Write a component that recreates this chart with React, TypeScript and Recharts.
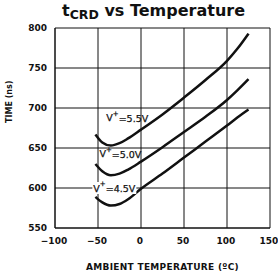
import { LineChart, Line, XAxis, YAxis, CartesianGrid, ReferenceDot, Label } from 'recharts';

// values
const temps: number[] = [-53, -45, -35, -25, -15, 0, 25, 50, 75, 100, 112, 125];
const time55: number[] = [667, 657, 653, 656, 662, 673, 692, 713, 735, 759, 774, 793];
const time50: number[] = [630, 621, 616, 618, 623, 633, 651, 670, 689, 710, 722, 736];
const time45: number[] = [589, 582, 578, 580, 586, 599, 618, 638, 658, 678, 688, 698];

const xTicks: number[] = [-100, -50, 0, 50, 100, 150];
const yTicks: number[] = [550, 600, 650, 700, 750, 800];

const curveLabels = [
    { volts: '5.5V', x: -16, y: 688, bg: false },
    { volts: '5.0V', x: -24, y: 643, bg: false },
    { volts: '4.5V', x: -31, y: 600, bg: true },
];

const data = temps.map((t, i) => ({ t, v55: time55[i], v50: time50[i], v45: time45[i] }));

const ink = '#111';
const font = '"DejaVu Sans", sans-serif';

const CurveLabel = (volts: string, bg: boolean) => (props: any) => {
    const { viewBox } = props;
    const cx = viewBox.x + (viewBox.width || 0) / 2;
    const cy = viewBox.y + (viewBox.height || 0) / 2;
    return (
        <g>
            {bg && <rect x={cx - 22} y={cy - 6} width={44} height={12} fill="#fff" />}
            <text x={cx} y={cy} textAnchor="middle" dominantBaseline="central"
                fontFamily={font} fontSize={9.5} fill={ink} stroke={ink} strokeWidth={0.25}>
                V<tspan dy={-4} fontSize={7}>+</tspan><tspan dy={4}>={volts}</tspan>
            </text>
        </g>
    );
};

export default function App() {
    return (
        <div style={{ position: 'absolute', left: 0, top: 0, width: 278, height: 277, background: '#fff' }}>
            <div style={{ position: 'absolute', left: 0, top: 1, width: 307, textAlign: 'center',
                fontFamily: font, fontWeight: 'bold', fontSize: 16, color: ink }}>
                t<sub style={{ fontSize: 12.5, verticalAlign: -3 }}>CRD</sub> vs Temperature
            </div>
            <LineChart width={278} height={277} data={data}
                margin={{ top: 28, right: 8, left: 0, bottom: 0 }}>
                <CartesianGrid stroke={ink} strokeWidth={1} horizontalValues={yTicks} verticalValues={xTicks} />
                <XAxis dataKey="t" type="number" domain={[-100, 150]} ticks={xTicks} height={49}
                    tickLine={false} tickSize={0} tickMargin={10} axisLine={{ stroke: ink }}
                    tick={{ fill: ink, fontSize: 9, fontFamily: font, fontWeight: 'bold', dx: -1 }}
                    tickFormatter={(v: number) => (v < 0 ? '\u2212' + Math.abs(v) : String(v))}>
                    <Label value="AMBIENT TEMPERATURE (ºC)" position="insideBottom" offset={7}
                        fill={ink} fontSize={9} fontWeight="bold" fontFamily={font} letterSpacing={0.3} />
                </XAxis>
                <YAxis type="number" domain={[550, 800]} ticks={yTicks} width={55}
                    tickLine={false} tickSize={0} tickMargin={8} axisLine={{ stroke: ink }}
                    tick={{ fill: ink, fontSize: 9, fontFamily: font, fontWeight: 'bold' }}>
                    <Label value="TIME (ns)" angle={-90} position="insideLeft" offset={9}
                        fill={ink} fontSize={8} fontWeight="bold" fontFamily={font} dy={-5} />
                </YAxis>
                <Line type="monotone" dataKey="v55" stroke={ink} strokeWidth={2.5} dot={false} isAnimationActive={false} />
                <Line type="monotone" dataKey="v50" stroke={ink} strokeWidth={2.5} dot={false} isAnimationActive={false} />
                <Line type="monotone" dataKey="v45" stroke={ink} strokeWidth={2.5} dot={false} isAnimationActive={false} />
                {curveLabels.map((c) => (
                    <ReferenceDot key={c.volts} x={c.x} y={c.y} r={0} fill="none" stroke="none"
                        ifOverflow="visible" label={CurveLabel(c.volts, c.bg)} />
                ))}
            </LineChart>
        </div>
    );
}
